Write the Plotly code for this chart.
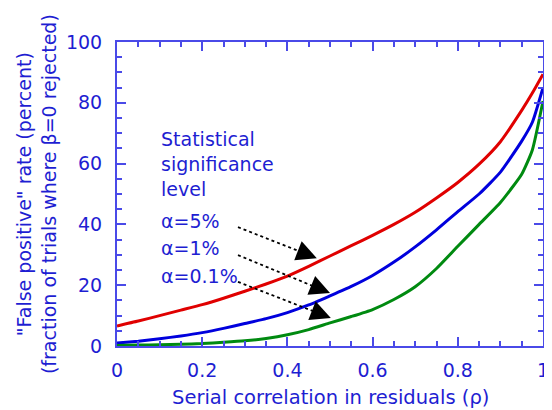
import plotly.graph_objects as go

# ---- data ----
rho = [0, 0.05, 0.1, 0.15, 0.2, 0.25, 0.3, 0.35, 0.4, 0.45, 0.5, 0.55,
       0.6, 0.65, 0.7, 0.75, 0.8, 0.85, 0.9, 0.95, 0.975, 1.0]
rate_5 = [6.6, 8.2, 10.0, 11.8, 13.6, 15.7, 18.0, 20.4, 23.0, 26.2, 29.6, 33.0,
          36.4, 40.0, 44.0, 48.7, 53.8, 59.8, 67.2, 77.5, 83.2, 89.4]
rate_1 = [1.0, 1.6, 2.4, 3.3, 4.4, 5.8, 7.4, 9.0, 11.0, 13.5, 16.5, 19.6,
          23.2, 27.6, 32.6, 38.2, 44.2, 50.0, 57.2, 67.4, 73.6, 85.0]
rate_01 = [0.2, 0.3, 0.4, 0.6, 0.8, 1.2, 1.7, 2.5, 3.7, 5.4, 7.6, 9.7,
           12.0, 15.3, 19.5, 25.5, 32.8, 40.0, 47.2, 56.5, 64.5, 80.6]

series_names = ["α=5%", "α=1%", "α=0.1%"]
series_values = [rate_5, rate_1, rate_01]
series_colors = ["#e00000", "#0000dd", "#008a10"]

x_ticks = [0, 0.2, 0.4, 0.6, 0.8, 1]
x_tick_labels = ["0", "0.2", "0.4", "0.6", "0.8", "1"]
y_ticks = [0, 20, 40, 60, 80, 100]

x_title = "Serial correlation in residuals (ρ)"
y_title = "\"False positive\" rate (percent)<br>(fraction of trials where β=0 rejected)"

legend_lines = ["Statistical", "significance", "level"] + series_names
legend_y = [68.1, 59.9, 51.6, 41.1, 32.1, 23.0]
legend_x = 0.099

# arrows: (start x, start y) -> (tip x, tip y), data coordinates
arrow_start = [(0.284, 39.1), (0.284, 29.9), (0.284, 21.1)]
arrow_tip = [(0.469, 28.9), (0.500, 17.4), (0.502, 9.2)]

TEXT = "#1e1ed2"
AXIS = "#4a4ae8"
FONT = "DejaVu Sans, Verdana, sans-serif"
FS = 19

fig = go.Figure()
for name, vals, col in zip(series_names, series_values, series_colors):
    fig.add_trace(go.Scatter(x=rho, y=vals, mode="lines", name=name,
                             line=dict(color=col, width=3, shape="spline",
                                       smoothing=0.5)))

for (sx, sy), (tx, ty) in zip(arrow_start, arrow_tip):
    fx = tx - (tx - sx) * 0.08
    fy = ty - (ty - sy) * 0.08
    fig.add_shape(type="line", x0=sx, y0=sy, x1=fx, y1=fy, xref="x", yref="y",
                  line=dict(color="black", width=1.8, dash="dot"))
    hx = tx - (tx - sx) * 0.12
    hy = ty - (ty - sy) * 0.12
    fig.add_annotation(x=tx, y=ty, ax=hx, ay=hy, xref="x", yref="y",
                       axref="x", ayref="y", text="", showarrow=True,
                       arrowhead=2, arrowsize=2.7, arrowwidth=1.5,
                       arrowcolor="black")

for txt, yy in zip(legend_lines, legend_y):
    fig.add_annotation(x=legend_x, y=yy, xref="x", yref="y", text=txt,
                       showarrow=False, xanchor="left", yanchor="middle",
                       font=dict(family=FONT, size=FS, color=TEXT))

# axis titles as paper annotations
fig.add_annotation(x=0.5, y=-0.168, xref="paper", yref="paper", text=x_title,
                   showarrow=False, xanchor="center", yanchor="middle",
                   font=dict(family=FONT, size=FS + 0.5, color=TEXT))
fig.add_annotation(x=-0.19, y=0.5, xref="paper", yref="paper", text=y_title,
                   showarrow=False, xanchor="center", yanchor="middle",
                   textangle=-90,
                   font=dict(family=FONT, size=FS, color=TEXT))

axis_common = dict(
    showline=True, linecolor=AXIS, linewidth=2, mirror="allticks",
    ticks="inside", ticklen=9, tickwidth=1.5, tickcolor=AXIS,
    showgrid=False, zeroline=False, automargin=False,
    tickfont=dict(family=FONT, size=FS, color=TEXT),
)

fig.update_xaxes(range=[0, 1], tickvals=x_ticks, ticktext=x_tick_labels,
                 ticklabelstandoff=6,
                 minor=dict(dtick=0.05, ticks="inside", ticklen=5,
                            tickcolor=AXIS, tickwidth=1.5, showgrid=False),
                 **axis_common)
fig.update_yaxes(range=[0, 100], tickvals=y_ticks,
                 ticklabelstandoff=9,
                 minor=dict(dtick=5, ticks="inside", ticklen=5,
                            tickcolor=AXIS, tickwidth=1.5, showgrid=False),
                 **axis_common)

# page has an 8px body margin, so the figure is sized/offset to compensate
fig.update_layout(
    width=544, height=402,
    margin=dict(l=109, r=9, t=34, b=64),
    paper_bgcolor="white", plot_bgcolor="white",
    showlegend=False,
)

fig.write_html("out.html")
